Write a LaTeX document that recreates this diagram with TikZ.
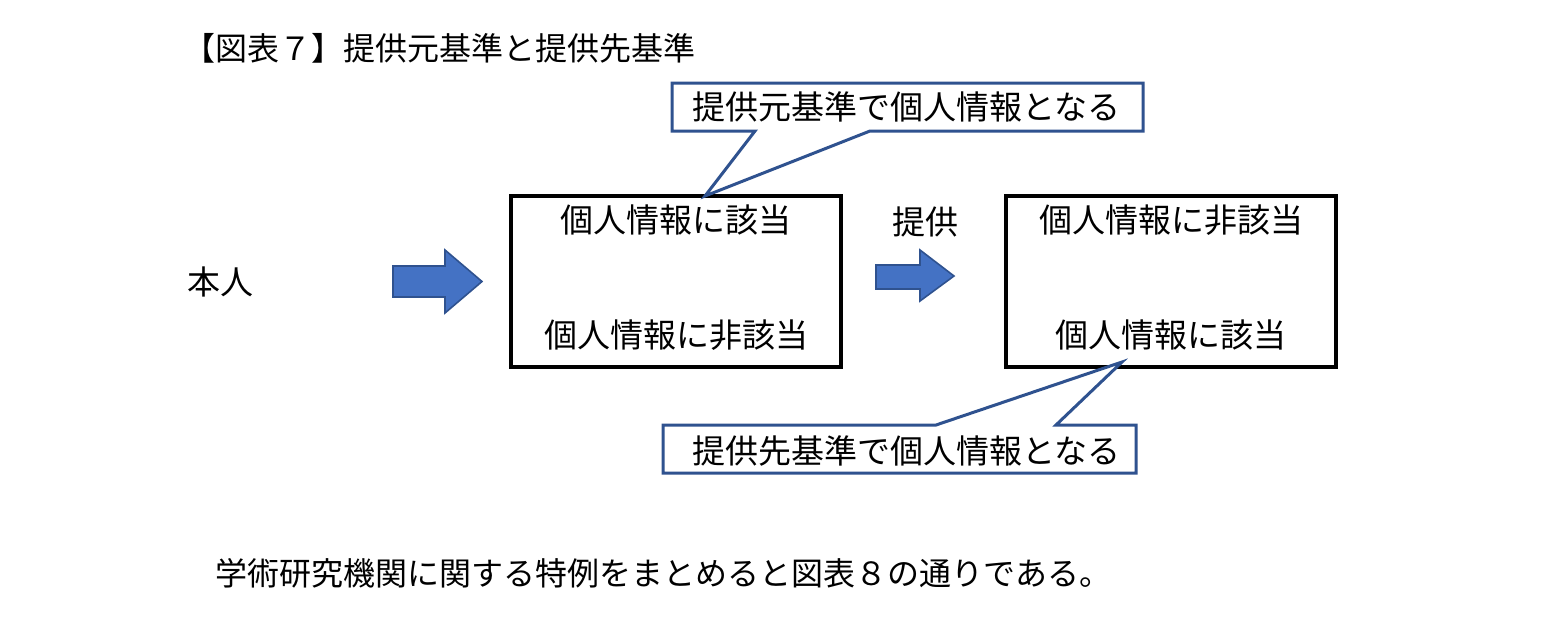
\documentclass[tikz,border=0pt]{standalone}
\usepackage{fontspec}
\setmainfont{Liberation Serif}
\newfontfamily\cjk{Noto Sans CJK JP}
\definecolor{cline}{RGB}{47,82,143}
\definecolor{afill}{RGB}{68,114,196}
\begin{document}
\begin{tikzpicture}[x=0.5pt,y=-0.5pt,
  txt/.style={font=\cjk\fontsize{16}{18}\selectfont, inner sep=0},
  big/.style={font=\cjk\fontsize{16.5}{18}\selectfont, inner sep=0},
  frame/.style={draw=black, line width=1.7pt},
  callout/.style={draw=cline, line width=1.5pt, fill=white, line join=miter},
  blockarrow/.style={draw=cline, line width=0.8pt, fill=afill}]
\useasboundingbox (0,0) rectangle (1563,634);
\node[txt, anchor=west] (title) at (183,48) {【図表７】提供元基準と提供先基準};
\node[big] (self) at (220,282) {本人};
% boxes
\draw[frame] (511,196) rectangle (841,367);
\node[big] (b1t) at (676,220) {個人情報に該当};
\node[big] (b1b) at (676,335) {個人情報に非該当};
\draw[frame] (1006,196) rectangle (1336,367);
\node[big] (b2t) at (1171,220) {個人情報に非該当};
\node[big] (b2b) at (1171,335) {個人情報に該当};
\node[big] (give) at (925,222) {提供};
% arrows
\draw[blockarrow] (393,266) -- (445,266) -- (445,250) -- (482,281.5) -- (445,313) -- (445,297) -- (393,297) -- cycle;
\draw[blockarrow] (876,265) -- (920,265) -- (920,250) -- (954,276) -- (920,301) -- (920,289) -- (876,289) -- cycle;
% callouts
\draw[callout] (672,83) -- (1143,83) -- (1143,131) -- (870,131) -- (705,196) -- (755,131) -- (672,131) -- cycle;
\node[big] (c1) at (906,107) {提供元基準で個人情報となる};
\draw[callout] (663,425) -- (936,425) -- (1122,362) -- (1056,425) -- (1136,425) -- (1136,473) -- (663,473) -- cycle;
\node[big] (c2) at (906,451) {提供先基準で個人情報となる};
\node[txt, anchor=west] (foot) at (215,573) {学術研究機関に関する特例をまとめると図表８の通りである。};
\end{tikzpicture}
\end{document}
